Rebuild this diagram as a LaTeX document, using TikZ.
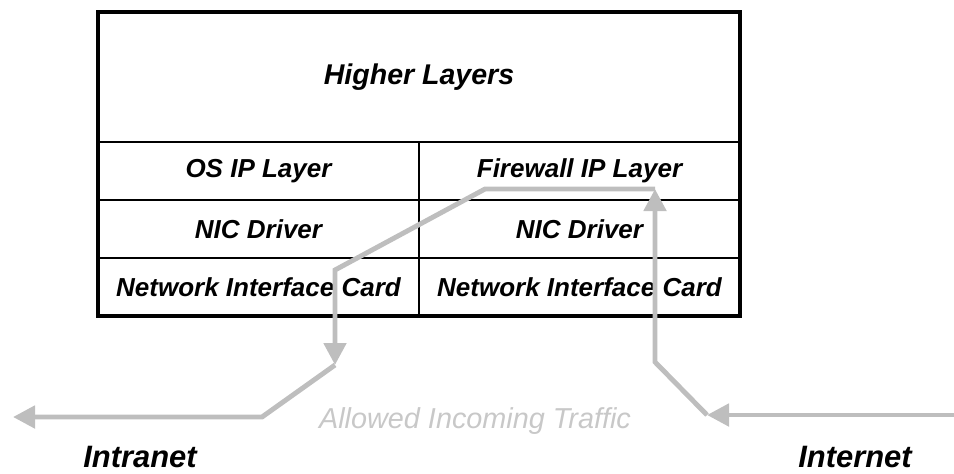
\documentclass[tikz,border=0pt]{standalone}
\usepackage{fontspec}
\setmainfont{Liberation Sans}
\usetikzlibrary{arrows.meta,positioning}
\definecolor{flowgray}{RGB}{190,190,190}
\definecolor{notegray}{RGB}{200,200,200}

\begin{document}
\begin{tikzpicture}[
  layer/.style={rectangle, draw, line width=2pt, outer sep=0pt, inner sep=0pt,
    minimum width=8.025cm, minimum height=1.45cm,
    font=\fontsize{18.5}{20}\selectfont\bfseries\itshape},
  toplayer/.style={layer, minimum width=16.05cm, minimum height=3.25cm,
    font=\fontsize{20.3}{22}\selectfont\bfseries\itshape},
  flow/.style={-{Triangle[length=0.55cm, width=0.55cm]}, line width=3.5pt, flowgray},
  net/.style={font=\fontsize{22}{24}\selectfont\bfseries\itshape},
]
\useasboundingbox (0,0) rectangle (23.85,-11.825);

\node[toplayer, anchor=north west] (hl) at (2.45,-0.3) {Higher Layers};

\node[layer, below=0pt of hl.south west, anchor=north west] (osip) {OS IP Layer};
\node[layer, below=0pt of osip] (nic1) {NIC Driver};
\node[layer, below=0pt of nic1] (card1) {Network Interface Card};

\node[layer, right=0pt of osip] (fwip) {Firewall IP Layer};
\node[layer, right=0pt of nic1] (nic2) {NIC Driver};
\node[layer, right=0pt of card1] (card2) {Network Interface Card};

% outer frame
\draw[line width=2.9pt] (hl.north west) rectangle (card2.south east);

% traffic path
\coordinate (inet) at (23.85,-10.375);
\coordinate (inlet) at (17.675,-10.375);
\coordinate (fwin) at (16.375,-4.725);
\coordinate (osout) at (8.375,-9.125);
\coordinate (lan) at (0.325,-10.425);

\draw[flow] (inet) -- (inlet);
\draw[flow] (inlet) -- (16.375,-9.05) -- (fwin);
\draw[flow] (fwin) -- (12.125,-4.725) -- (8.375,-6.75) -- (osout);
\draw[flow] (osout) -- (6.55,-10.425) -- (lan);

% labels
\node[font=\fontsize{20.5}{22}\selectfont\itshape, text=notegray] (note) at (11.875,-10.52) {Allowed Incoming Traffic};
\node[net] (intranet) at (3.5,-11.425) {Intranet};
\node[net] (internet) at (21.375,-11.425) {Internet};

\end{tikzpicture}
\end{document}
